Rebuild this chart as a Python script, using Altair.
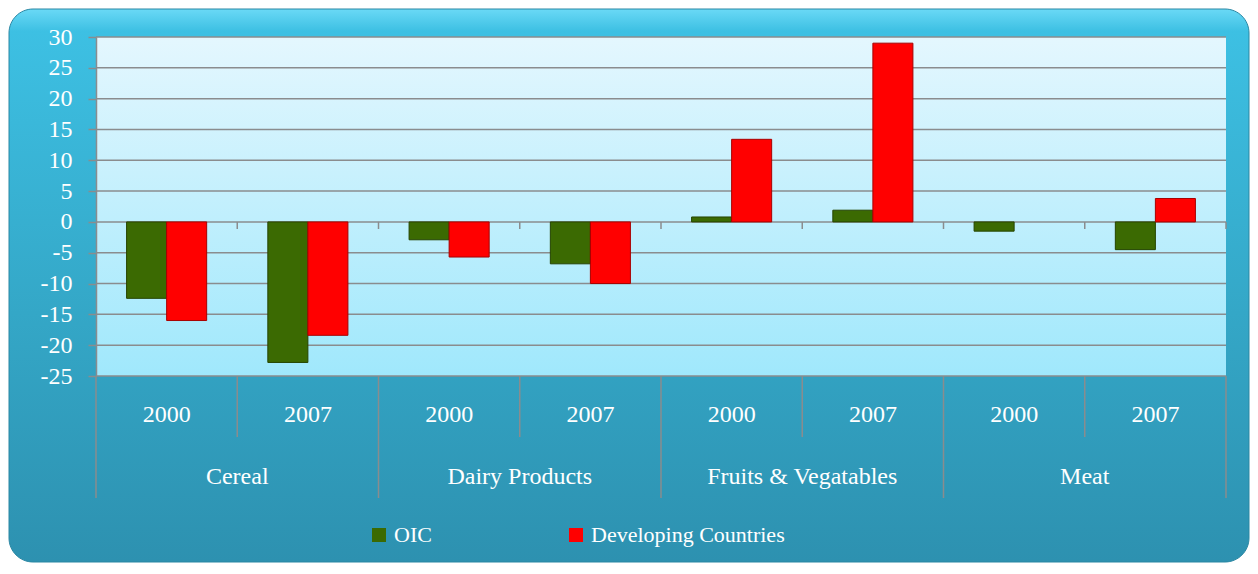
import altair as alt
import pandas as pd

categories = ["Cereal", "Dairy Products", "Fruits & Vegatables", "Meat"]
years = ["2000", "2007"]
series = ["OIC", "Developing Countries"]
oic_values = [-12.4, -22.8, -2.9, -6.8, 0.8, 1.9, -1.5, -4.5]
dev_values = [-16.0, -18.4, -5.7, -10.0, 13.4, 29.0, None, 3.8]
y_ticks = list(range(-25, 31, 5))
series_colors = ["#3b6a02", "#ff0000"]
series_strokes = ["#254400", "#a80000"]

W, H = 1130, 339
FONT = "Liberation Serif"

# ---- tables built from the arrays above ----
keys, rows, year_rows = [], [], []
for ci, c in enumerate(categories):
    for yi, yr in enumerate(years):
        k = f"{c}|{yr}"
        keys.append(k)
        i = ci * len(years) + yi
        year_rows.append({"pos": i + 0.5, "label": yr})
        for s, vals in zip(series, [oic_values, dev_values]):
            if vals[i] is not None:
                rows.append({"key": k, "series": s, "value": vals[i]})
df = pd.DataFrame(rows)
year_df = pd.DataFrame(year_rows)
n = len(keys)
cat_df = pd.DataFrame({"pos": [ci * len(years) + len(years) / 2 for ci in range(len(categories))],
                       "label": categories})
bounds = pd.DataFrame({"pos": list(range(n + 1))})
bounds["kind"] = ["cat" if p % len(years) == 0 else "year" for p in bounds["pos"]]
grid_df = pd.DataFrame({"v": y_ticks})

yscale = alt.Scale(domain=[-25, 30], nice=False, zero=False)
pos_scale = alt.Scale(domain=[0, n], nice=False, zero=False)
GRID = "#8a8c8e"

def y_axis():
    return alt.Axis(values=y_ticks, grid=False, domain=True, domainColor=GRID, domainWidth=1.5,
                    ticks=True, tickSize=8, tickColor=GRID, tickWidth=1.5, labelOverlap=False,
                    labelColor="white", labelFont=FONT, labelFontSize=24, labelPadding=16,
                    labelExpr="'' + datum.value", zindex=1, title=None)

outer = alt.Chart(pd.DataFrame({"a": [0]})).mark_rect(
    cornerRadius=24,
    stroke="#2b87a3", strokeWidth=1,
    fill=alt.Gradient(gradient="linear", x1=0, x2=0, y1=0, y2=1, stops=[
        alt.GradientStop(color="#6ad9f6", offset=0.0),
        alt.GradientStop(color="#3dc0e3", offset=0.04),
        alt.GradientStop(color="#34a7c7", offset=0.55),
        alt.GradientStop(color="#2d91b0", offset=1.0)])
).encode(x=alt.value(-87), x2=alt.value(W + 23), y=alt.value(-28), y2=alt.value(H + 186))

plotbg = alt.Chart(pd.DataFrame({"a": [0]})).mark_rect(
    fill=alt.Gradient(gradient="linear", x1=0, x2=0, y1=0, y2=1, stops=[
        alt.GradientStop(color="#e4f7fe", offset=0.0),
        alt.GradientStop(color="#a0e8fc", offset=1.0)])
).encode(x=alt.value(0), x2=alt.value(W), y=alt.value(0), y2=alt.value(H))

grid = alt.Chart(grid_df).mark_rule(color=GRID, strokeWidth=1.5).encode(
    y=alt.Y("v:Q", scale=yscale, axis=y_axis()), x=alt.value(0), x2=alt.value(W))

zero_ticks = alt.Chart(bounds[bounds["pos"] > 0]).mark_rule(color=GRID, strokeWidth=1.5).encode(
    x=alt.X("pos:Q", scale=pos_scale, axis=None),
    y=alt.Y(datum=0, scale=yscale, axis=y_axis()), y2=alt.datum(-1.15))

year_sep = alt.Chart(bounds[bounds["kind"] == "year"]).mark_rule(color=GRID, strokeWidth=1.5).encode(
    x=alt.X("pos:Q", scale=pos_scale, axis=None), y=alt.value(H), y2=alt.value(H + 61))
cat_sep = alt.Chart(bounds[bounds["kind"] == "cat"]).mark_rule(color=GRID, strokeWidth=1.5).encode(
    x=alt.X("pos:Q", scale=pos_scale, axis=None), y=alt.value(H), y2=alt.value(H + 122))

pad = 0.433
bars = alt.Chart(df).mark_bar(strokeWidth=1).encode(
    x=alt.X("key:N", sort=keys, scale=alt.Scale(domain=keys, paddingInner=pad, paddingOuter=pad / 2), axis=None),
    xOffset=alt.XOffset("series:N", sort=series, scale=alt.Scale(domain=series, paddingInner=0, paddingOuter=0)),
    y=alt.Y("value:Q", scale=yscale, axis=y_axis()),
    color=alt.Color("series:N", sort=series, scale=alt.Scale(domain=series, range=series_colors),
                    legend=alt.Legend(title=None, orient="none", legendX=272, legendY=487,
                                      direction="horizontal", symbolType="square", symbolSize=196,
                                      symbolStrokeWidth=0, labelColor="white", labelFont=FONT,
                                      labelFontSize=22, labelOffset=4, columnPadding=133,
                                      labelLimit=400)),
    stroke=alt.Stroke("series:N", sort=series, scale=alt.Scale(domain=series, range=series_strokes), legend=None),
)

year_text = alt.Chart(year_df).mark_text(font=FONT, fontSize=24, color="white", baseline="middle").encode(
    x=alt.X("pos:Q", scale=pos_scale, axis=None), y=alt.value(H + 39), text="label:N")
cat_text = alt.Chart(cat_df).mark_text(font=FONT, fontSize=24, color="white", baseline="middle").encode(
    x=alt.X("pos:Q", scale=pos_scale, axis=None), y=alt.value(H + 101), text="label:N")

chart = alt.layer(outer, plotbg, grid, zero_ticks, year_sep, cat_sep, bars, year_text, cat_text).resolve_scale(
    x="independent"
).properties(
    width=W, height=H,
    autosize=alt.AutoSizeParams(type="none"),
    padding={"left": 88, "top": 29, "right": 24, "bottom": 188},
    background="white",
).configure_view(stroke=None)

chart.save("out.html", embed_options={"renderer": "svg", "actions": False})
